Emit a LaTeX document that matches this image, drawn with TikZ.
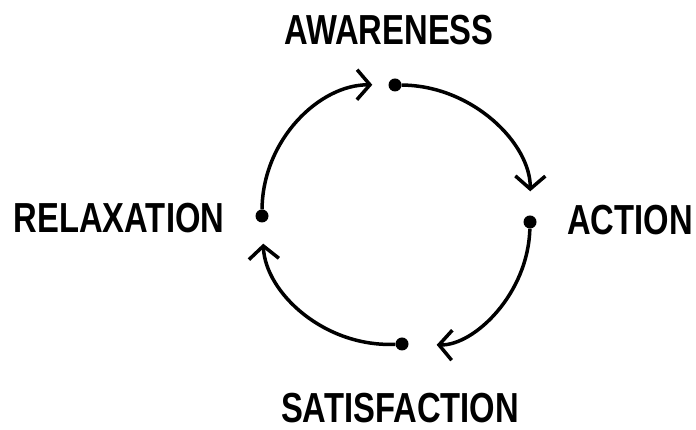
\documentclass[tikz,border=0pt]{standalone}
\usepackage{fontspec}
\usepackage{tikz}
\usetikzlibrary{arrows.meta}
\newfontfamily\cyclefont{Liberation Sans}[FakeStretch=0.78]

\tikzset{
    stage/.style={font=\cyclefont\bfseries\fontsize{42}{42}\selectfont, inner sep=0pt},
    dot/.style={circle, fill=black, inner sep=0pt, minimum size=13pt},
    flow/.style={line width=3.5pt, bend left=45, -{Straight Barb[length=13pt,width=30pt]}}
}

\begin{document}
\begin{tikzpicture}[x=1pt, y=1pt]
    \useasboundingbox (0,0) rectangle (696,430);

    % Stage labels
    \node[stage] (awareness) at (389, 400) {AWARENESS};
    \node[stage] (action) at (630, 210) {ACTION};
    \node[stage] (satisfaction) at (400, 22) {SATISFACTION};
    \node[stage] (relaxation) at (119, 212) {RELAXATION};

    % Dots on the cycle
    \node[dot] (top) at (395, 345) {};
    \node[dot] (right) at (530, 208) {};
    \node[dot] (bottom) at (402, 86) {};
    \node[dot] (left) at (262, 214) {};

    % Arrows
    \draw[flow, shorten >=24pt] (top) to (right);
    \draw[flow, shorten >=28pt] (right) to (bottom);
    \draw[flow, shorten >=21pt] (bottom) to (left);
    \draw[flow, shorten >=16pt] (left) to (top);
\end{tikzpicture}
\end{document}
